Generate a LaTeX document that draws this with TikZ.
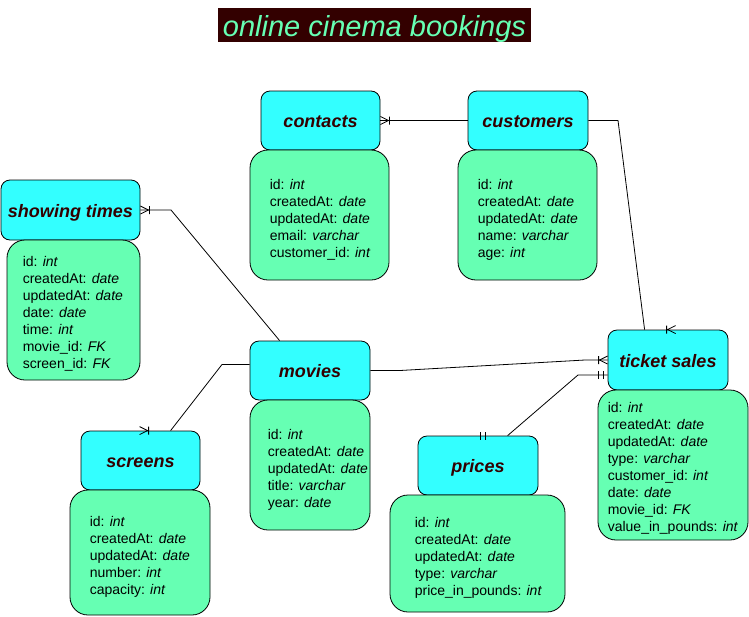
\documentclass[tikz,border=0pt]{standalone}
\usepackage{fontspec}
\setmainfont{Liberation Sans}
\usetikzlibrary{calc}
\definecolor{hdrc}{HTML}{33FFFF}
\definecolor{bdyc}{HTML}{66FFB3}
\definecolor{dkc}{HTML}{330000}
\tikzset{
  hdr/.style={draw=black, fill=hdrc, rounded corners=9pt, line width=0.8pt, inner sep=0pt,
    font=\fontsize{18}{20}\selectfont\bfseries\itshape, text=dkc, text height=14pt, text depth=0pt},
  bdy/.style={draw=black, fill=bdyc, rounded corners=18pt, line width=0.8pt, inner sep=0pt},
  btext/.style={font=\fontsize{14}{17}\selectfont, align=left, anchor=west, inner sep=0pt},
  conn/.style={draw=black, line width=0.8pt},
  onemany/.pic={\draw[conn] (0,-4) -- (8,0) -- (0,4) (9,-4) -- (9,4);},
  mandone/.pic={\draw[conn] (4,-4) -- (4,4) (9,-4) -- (9,4);}
}
\begin{document}
\begin{tikzpicture}[x=1pt,y=-1pt]
\useasboundingbox (0,0) rectangle (749,616);
% title
\node[fill=dkc, text=bdyc, minimum width=313pt, minimum height=34pt, inner sep=0pt,
  text height=22pt, text depth=0pt,
  font=\fontsize{29}{32}\selectfont\itshape] (title) at (374.5,25) {online cinema bookings};
% contacts
\node[hdr, minimum width=119pt, minimum height=59pt] (contactsH) at (320.5,120.5) {contacts};
\node[bdy, minimum width=139pt, minimum height=130pt] (contactsB) at (319.5,215) {};
\node[btext] (contactsT) at ([xshift=20pt,yshift=-4.5pt]contactsB.west) {id: \textit{int}\\createdAt: \textit{date}\\updatedAt: \textit{date}\\email: \textit{varchar}\\customer\_id: \textit{int}};
% customers
\node[hdr, minimum width=120pt, minimum height=59pt] (customersH) at (528,120.5) {customers};
\node[bdy, minimum width=139pt, minimum height=130pt] (customersB) at (527.5,215) {};
\node[btext] (customersT) at ([xshift=20pt,yshift=-4.5pt]customersB.west) {id: \textit{int}\\createdAt: \textit{date}\\updatedAt: \textit{date}\\name: \textit{varchar}\\age: \textit{int}};
% showing times
\node[hdr, minimum width=139pt, minimum height=60pt] (showingH) at (70.5,210) {showing times};
\node[bdy, minimum width=133pt, minimum height=140pt] (showingB) at (73.5,310) {};
\node[btext] (showingT) at ([xshift=16pt,yshift=-3.5pt]showingB.west) {id: \textit{int}\\createdAt: \textit{date}\\updatedAt: \textit{date}\\date: \textit{date}\\time: \textit{int}\\movie\_id: \textit{FK}\\screen\_id: \textit{FK}};
% movies
\node[hdr, minimum width=120pt, minimum height=59pt] (moviesH) at (310,370.5) {movies};
\node[bdy, minimum width=120pt, minimum height=130pt] (moviesB) at (310,465) {};
\node[btext] (moviesT) at ([xshift=18pt,yshift=-4.5pt]moviesB.west) {id: \textit{int}\\createdAt: \textit{date}\\updatedAt: \textit{date}\\title: \textit{varchar}\\year: \textit{date}};
% screens
\node[hdr, minimum width=119pt, minimum height=59pt] (screensH) at (140.5,460.5) {screens};
\node[bdy, minimum width=140pt, minimum height=125pt] (screensB) at (140,552.5) {};
\node[btext] (screensT) at ([xshift=20pt,yshift=-4.5pt]screensB.west) {id: \textit{int}\\createdAt: \textit{date}\\updatedAt: \textit{date}\\number: \textit{int}\\capacity: \textit{int}};
% prices
\node[hdr, minimum width=120pt, minimum height=59pt] (pricesH) at (478,465.5) {prices};
\node[bdy, minimum width=175pt, minimum height=117pt] (pricesB) at (477.5,553.5) {};
\node[btext] (pricesT) at ([xshift=25pt,yshift=-4.5pt]pricesB.west) {id: \textit{int}\\createdAt: \textit{date}\\updatedAt: \textit{date}\\type: \textit{varchar}\\price\_in\_pounds: \textit{int}};
% ticket sales
\node[hdr, minimum width=120pt, minimum height=60pt] (ticketH) at (668,360) {ticket sales};
\node[bdy, minimum width=150pt, minimum height=150pt] (ticketB) at (673,465) {};
\node[btext] (ticketT) at ([xshift=10pt,yshift=-3.5pt]ticketB.west) {id: \textit{int}\\createdAt: \textit{date}\\updatedAt: \textit{date}\\type: \textit{varchar}\\customer\_id: \textit{int}\\date: \textit{date}\\movie\_id: \textit{FK}\\value\_in\_pounds: \textit{int}};
% connectors
\draw[conn] (customersH.west) -- (contactsH.east);
\pic at (contactsH.east) {onemany};
\draw[conn] ($(moviesH.north west)+(30,0)$) -- (171,210) -- (showingH.east);
\pic at (showingH.east) {onemany};
\draw[conn] ([yshift=6pt]moviesH.west) -- (222,364.5) -- ($(screensH.north west)+(90,0)$);
\pic at ($(screensH.north west)+(59,0)$) {onemany};
\draw[conn] (moviesH.east) -- (400,370.5) -- (585,360) -- (ticketH.west);
\pic[rotate=180] at (ticketH.west) {onemany};
\draw[conn] (customersH.east) -- (618,120.5) -- ($(ticketH.north west)+(37,0)$);
\pic[rotate=180] at ($(ticketH.north west)+(68,0)$) {onemany};
\draw[conn] ($(pricesH.north west)+(90,0)$) -- (578,375) -- ([yshift=-15pt]ticketH.west);
\pic[rotate=180] at ([yshift=-15pt]ticketH.west) {mandone};
\pic[rotate=180] at ($(pricesH.north west)+(72,0)$) {mandone};
\end{tikzpicture}
\end{document}
